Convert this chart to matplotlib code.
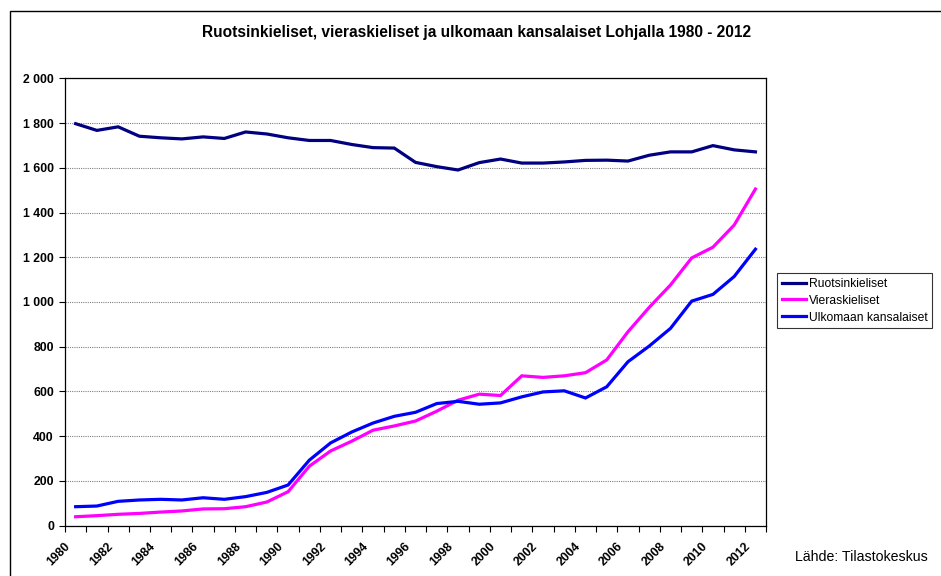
import numpy as np
import matplotlib
matplotlib.use("Agg")
import matplotlib.pyplot as plt
from matplotlib.ticker import FuncFormatter, FixedLocator
from matplotlib.patches import Rectangle
from matplotlib.transforms import ScaledTranslation

plt.rcParams['font.family'] = ['Liberation Sans', 'DejaVu Sans']

years = list(range(1980, 2013))

ruotsi = [1797, 1767, 1783, 1741, 1734, 1729, 1738, 1731, 1760, 1751,
          1734, 1722, 1722, 1704, 1690, 1688, 1624, 1605, 1590, 1623,
          1639, 1621, 1621, 1626, 1633, 1634, 1630, 1656, 1671, 1671,
          1699, 1680, 1671]

vieras = [40, 45, 51, 55, 61, 66, 75, 76, 85, 106,
          152, 266, 334, 378, 427, 446, 468, 512, 561, 588,
          582, 670, 663, 670, 684, 741, 867, 976, 1076, 1197,
          1245, 1344, 1505]

ulkom = [85, 88, 109, 115, 118, 115, 125, 118, 130, 149,
         182, 293, 370, 419, 459, 489, 507, 546, 556, 543,
         549, 576, 598, 603, 571, 621, 733, 803, 882, 1004,
         1034, 1114, 1236]

labels = ['Ruotsinkieliset', 'Vieraskieliset', 'Ulkomaan kansalaiset']
colors = ['#000080', '#FF00FF', '#0000FF']

fig = plt.figure(figsize=(9.41, 5.76), dpi=100)
ax = fig.add_axes([0.0691, 0.0873, 0.745, 0.7768])

x = np.arange(len(years))
for vals, lab, col in zip([ruotsi, vieras, ulkom], labels, colors):
    ax.plot(x, vals, color=col, linewidth=2.3, label=lab, solid_joinstyle='miter')

ax.set_xlim(-0.5, len(years) - 0.5)
ax.set_ylim(0, 2000)
ax.set_yticks(np.arange(0, 2001, 200))
ax.yaxis.set_major_formatter(FuncFormatter(lambda v, p: f"{v:,.0f}".replace(",", " ")))
ax.grid(axis='y', color='#808080', linestyle=(0, (1, 1)), linewidth=0.8)
ax.set_axisbelow(True)

# tick marks between categories, labels on every other year
ax.xaxis.set_major_locator(FixedLocator(np.arange(-0.5, len(years), 1)))
ax.xaxis.set_major_formatter(FuncFormatter(lambda v, p: ''))
ax.xaxis.set_minor_locator(FixedLocator(x[::2]))
ax.set_xticklabels([str(y) for y in years[::2]], minor=True)
ax.tick_params(axis='x', which='major', length=4, width=0.8, direction='out')
ax.tick_params(axis='x', which='minor', length=0, pad=6)
shift = ScaledTranslation(-11 / 100, -6 / 100, fig.dpi_scale_trans)
for t in ax.get_xticklabels(minor=True):
    t.set_rotation(45)
    t.set_ha('right')
    t.set_va('top')
    t.set_rotation_mode('anchor')
    t.set_fontsize(8.8)
    t.set_fontweight('bold')
    t.set_transform(t.get_transform() + shift)

ax.tick_params(axis='y', length=4, width=0.8, labelsize=8.8, pad=4)
for t in ax.get_yticklabels():
    t.set_fontweight('bold')

for s in ax.spines.values():
    s.set_color('black')
    s.set_linewidth(0.9)

fig.text(0.5065, 0.943, 'Ruotsinkieliset, vieraskieliset ja ulkomaan kansalaiset Lohjalla 1980 - 2012',
         ha='center', va='center', fontsize=11.2, fontweight='bold')

leg = fig.legend(loc='upper left', bbox_to_anchor=(0.826, 0.526), fontsize=8.7,
                 frameon=True, fancybox=False, handlelength=2.0, handletextpad=0.2,
                 borderpad=0.4, labelspacing=0.4, borderaxespad=0)
leg.get_frame().set_edgecolor('black')
leg.get_frame().set_linewidth(0.8)

fig.text(0.845, 0.033, 'Lähde: Tilastokeskus', fontsize=10.2, ha='left', va='center')

fig.patches.append(Rectangle((10 / 941, -0.05), 1.1, 1 - 11 / 576 + 0.05,
                             transform=fig.transFigure, fill=False,
                             edgecolor='black', linewidth=1.0))

fig.savefig('out.png', dpi=100)
